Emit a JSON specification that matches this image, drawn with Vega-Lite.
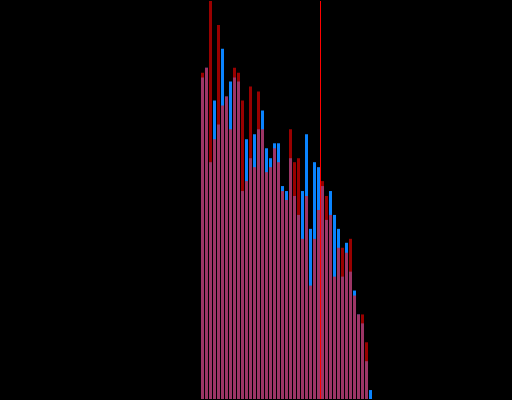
{
  "$schema": "https://vega.github.io/schema/vega-lite/v6.json",
  "autosize": {"type": "fit", "contains": "padding"},
  "width": 512,
  "height": 400,
  "padding": 0,
  "background": "black",
  "config": {"view": {"stroke": null}},
  "data": {"values": [
    {"bin_start": 0, "bin_end": 1, "blue": 323, "red": 328},
    {"bin_start": 1, "bin_end": 2, "blue": 333, "red": 333},
    {"bin_start": 2, "bin_end": 3, "blue": 238, "red": 415},
    {"bin_start": 3, "bin_end": 4, "blue": 300, "red": 261},
    {"bin_start": 4, "bin_end": 5, "blue": 276, "red": 376},
    {"bin_start": 5, "bin_end": 6, "blue": 352, "red": 295},
    {"bin_start": 6, "bin_end": 7, "blue": 304, "red": 304},
    {"bin_start": 7, "bin_end": 8, "blue": 319, "red": 271},
    {"bin_start": 8, "bin_end": 9, "blue": 323, "red": 333},
    {"bin_start": 9, "bin_end": 10, "blue": 319, "red": 328},
    {"bin_start": 10, "bin_end": 11, "blue": 209, "red": 300},
    {"bin_start": 11, "bin_end": 12, "blue": 261, "red": 219},
    {"bin_start": 12, "bin_end": 13, "blue": 242, "red": 314},
    {"bin_start": 13, "bin_end": 14, "blue": 266, "red": 233},
    {"bin_start": 14, "bin_end": 15, "blue": 271, "red": 309},
    {"bin_start": 15, "bin_end": 16, "blue": 290, "red": 271},
    {"bin_start": 16, "bin_end": 17, "blue": 252, "red": 228},
    {"bin_start": 17, "bin_end": 18, "blue": 242, "red": 233},
    {"bin_start": 18, "bin_end": 19, "blue": 257, "red": 252},
    {"bin_start": 19, "bin_end": 20, "blue": 257, "red": 238},
    {"bin_start": 20, "bin_end": 21, "blue": 214, "red": 209},
    {"bin_start": 21, "bin_end": 22, "blue": 209, "red": 200},
    {"bin_start": 22, "bin_end": 23, "blue": 242, "red": 271},
    {"bin_start": 23, "bin_end": 24, "blue": 204, "red": 238},
    {"bin_start": 24, "bin_end": 25, "blue": 185, "red": 242},
    {"bin_start": 25, "bin_end": 26, "blue": 209, "red": 161},
    {"bin_start": 26, "bin_end": 27, "blue": 266, "red": 204},
    {"bin_start": 27, "bin_end": 28, "blue": 171, "red": 114},
    {"bin_start": 28, "bin_end": 29, "blue": 238, "red": 161},
    {"bin_start": 29, "bin_end": 30, "blue": 233, "red": 190},
    {"bin_start": 30, "bin_end": 31, "blue": 214, "red": 219},
    {"bin_start": 31, "bin_end": 32, "blue": 180, "red": 204},
    {"bin_start": 32, "bin_end": 33, "blue": 209, "red": 185},
    {"bin_start": 33, "bin_end": 34, "blue": 185, "red": 123},
    {"bin_start": 34, "bin_end": 35, "blue": 171, "red": 152},
    {"bin_start": 35, "bin_end": 36, "blue": 123, "red": 152},
    {"bin_start": 36, "bin_end": 37, "blue": 157, "red": 147},
    {"bin_start": 37, "bin_end": 38, "blue": 128, "red": 161},
    {"bin_start": 38, "bin_end": 39, "blue": 109, "red": 104},
    {"bin_start": 39, "bin_end": 40, "blue": 85, "red": 85},
    {"bin_start": 40, "bin_end": 41, "blue": 76, "red": 85},
    {"bin_start": 41, "bin_end": 42, "blue": 38, "red": 57},
    {"bin_start": 42, "bin_end": 43, "blue": 9, "red": 0}
  ]},
  "layer": [
    {
      "mark": {"type": "bar", "color": "#0a84ff", "clip": true},
      "encoding": {
        "x": {"field": "bin_start", "type": "quantitative", "bin": "binned", "scale": {"domain": [-50, 78], "nice": false, "zero": false}, "axis": null},
        "x2": {"field": "bin_end"},
        "y": {"field": "blue", "type": "quantitative", "scale": {"domain": [0, 400], "nice": false}, "axis": null}
      }
    },
    {
      "mark": {"type": "bar", "color": "#ff0000", "opacity": 0.6, "clip": true},
      "encoding": {
        "x": {"field": "bin_start", "type": "quantitative", "bin": "binned"},
        "x2": {"field": "bin_end"},
        "y": {"field": "red", "type": "quantitative"}
      }
    },
    {
      "data": {"values": [{"threshold": 30.125}]},
      "mark": {"type": "rule", "color": "#ff0000", "strokeWidth": 1},
      "encoding": {
        "x": {"field": "threshold", "type": "quantitative"}
      }
    }
  ]
}
